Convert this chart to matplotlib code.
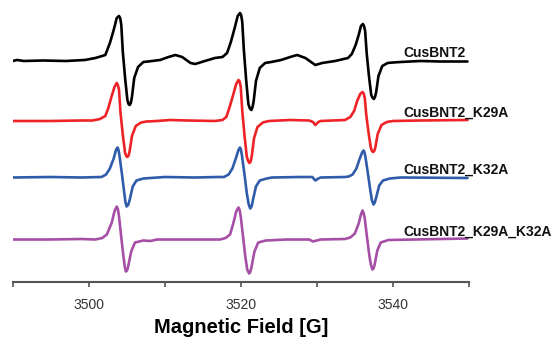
import matplotlib
matplotlib.use("Agg")
import matplotlib.pyplot as plt
from matplotlib.ticker import MultipleLocator

# EPR spectra (field in G, intensity in arb. units)
field_wt = [3490.0, 3490.6, 3491.5, 3494.0, 3497.0, 3499.5, 3500.9,
            3502.2, 3502.8, 3503.3, 3503.7, 3504.0, 3504.15, 3504.3, 3504.5, 3504.8, 3505.1,
            3505.25, 3505.4, 3505.55, 3505.7, 3506.0, 3506.5, 3507.2, 3507.8,
            3509.4, 3510.5, 3511.4, 3512.3, 3513.4, 3514.0, 3515.3, 3516.6,
            3517.6, 3518.2, 3518.7, 3519.2, 3519.6, 3519.9, 3520.05, 3520.2, 3520.4, 3520.7,
            3521.0, 3521.2, 3521.4, 3521.55, 3521.7, 3522.0, 3522.5, 3523.2, 3524.0,
            3525.3, 3526.5, 3527.4, 3528.5, 3529.8, 3530.7, 3532.4,
            3534.1, 3534.6, 3535.1, 3535.5, 3535.8, 3536.05, 3536.2, 3536.35, 3536.55, 3536.85,
            3537.15, 3537.35, 3537.5, 3537.65, 3537.8, 3538.1, 3538.6, 3539.3, 3540.0,
            3541.0, 3543.6, 3546.25, 3549.8]
int_wt = [0, 1, 0, 0.5, 0, 1, 3,
          6, 18, 31, 43, 45, 43, 36, 9, -17, -39,
          -43, -44, -42, -36, -17, -6, -1, -0.5,
          1, 4, 6, 4, -2, -3, 0, 3,
          4, 8, 19, 33, 45, 48, 46, 39, 12, -18,
          -43, -47.5, -49, -46, -40, -20, -7, -2, -1,
          1, 4, 6, 3, -4, -2, 0,
          3, 7, 16, 26, 35, 37, 35, 30, 8, -15,
          -34, -37, -38, -36, -31, -15, -5, -2, -1.5,
          -1, 0, -0.5, -0.5]

field_k29a = [3490.0, 3495.0, 3499.0, 3500.5,
              3501.5, 3502.2, 3502.6, 3503.0, 3503.4, 3503.7, 3503.85, 3504.0, 3504.2, 3504.5,
              3504.8, 3504.95, 3505.1, 3505.25, 3505.4, 3505.7, 3506.2, 3506.9, 3507.6,
              3509.0, 3510.7, 3513.0, 3516.6,
              3517.6, 3518.1, 3518.5, 3519.0, 3519.4, 3519.7, 3519.85, 3520.0, 3520.2, 3520.5,
              3520.8, 3521.0, 3521.15, 3521.3, 3521.45, 3521.75, 3522.2, 3522.9, 3523.7,
              3526.5, 3529.0, 3529.5, 3529.8, 3530.2, 3530.5,
              3533.7, 3534.4, 3534.9, 3535.3, 3535.7, 3536.0, 3536.15, 3536.3, 3536.5, 3536.8,
              3537.1, 3537.25, 3537.4, 3537.55, 3537.7, 3538.0, 3538.5, 3539.2, 3540.0,
              3543.6, 3549.8]
int_k29a = [0, 0, 0.5, 0.5,
            2, 5, 13, 24, 34, 38, 36, 31, 8, -14,
            -32, -35, -36, -34.5, -30, -15, -5, -1.5, -0.5,
            0, 1, 0.5, 0,
            1, 4, 13, 26, 37, 41, 39.5, 34, 10, -15,
            -36, -40.5, -42, -40.5, -35, -17, -6, -1.5, 0,
            1, 0.5, -1, -4, -1, 0,
            1, 4, 10, 20, 27, 29, 27.5, 23, 6, -12,
            -27, -30, -31, -30, -26, -13, -4, -1, 0,
            0.5, 1]

field_k32a = [3490.0, 3495.0, 3499.0,
              3501.7, 3502.3, 3502.8, 3503.3, 3503.6, 3503.8, 3503.92, 3504.05, 3504.4, 3504.7,
              3504.85, 3505.0, 3505.2, 3505.4, 3505.8, 3506.3, 3507.2,
              3510.0, 3514.0, 3517.0,
              3517.8, 3518.4, 3518.9, 3519.35, 3519.7, 3519.9, 3520.02, 3520.15, 3520.5, 3520.8,
              3521.05, 3521.25, 3521.45, 3521.6, 3522.0, 3522.5, 3523.4,
              3524.1, 3527.8, 3529.4, 3529.8, 3530.2, 3530.5, 3533.7,
              3534.2, 3534.7, 3535.2, 3535.6, 3535.95, 3536.15, 3536.27, 3536.4, 3536.75, 3537.05,
              3537.25, 3537.45, 3537.62, 3537.8, 3538.2, 3538.7, 3539.6,
              3541.0, 3549.8]
int_k32a = [0, 0.5, 0,
            0.5, 3, 9, 19, 27.5, 30, 28, 22.5, 2.5, -16,
            -25, -29, -27.5, -22.5, -9, -3, -1,
            0.5, 0, 0.5,
            0.5, 3, 9, 19, 27.5, 30, 28, 22.5, 2.5, -16,
            -27, -31, -28.5, -22.5, -9, -3, -1,
            0, 0.5, 0.5, -3, -1, 0, 0.5,
            1, 3, 9, 18, 25, 27, 25, 20, 2, -14,
            -23, -27, -25, -20, -8, -3, -1,
            0, -0.5]

field_k29a_k32a = [3490.0, 3495.0, 3499.0, 3500.9,
                   3501.8, 3502.4, 3503.05, 3503.4, 3503.7, 3503.85, 3504.0, 3504.3, 3504.6,
                   3504.75, 3504.9, 3505.05, 3505.2, 3505.6, 3506.1, 3507.2, 3508.1,
                   3509.0, 3510.7, 3514.0, 3517.3,
                   3518.0, 3518.6, 3519.05, 3519.4, 3519.7, 3519.85, 3520.0, 3520.3, 3520.6,
                   3520.85, 3521.1, 3521.25, 3521.4, 3521.8, 3522.3, 3523.3,
                   3526.0, 3529.0, 3529.5, 3530.0, 3530.5,
                   3533.7, 3534.4, 3535.0, 3535.5, 3535.8, 3536.0, 3536.15, 3536.3, 3536.6,
                   3536.9, 3537.1, 3537.3, 3537.45, 3537.6, 3537.95, 3538.4, 3539.4,
                   3549.8]
int_k29a_k32a = [0, 0, 0.5, 0,
                 1.5, 5, 17, 28, 33, 30.5, 23, 2, -18,
                 -27, -32, -31, -27, -12, -3, -1, -1.5,
                 0, 0, 0, 0,
                 1.5, 5, 17, 28, 32, 29.5, 23, 3, -17,
                 -30, -34, -32.5, -28, -12, -3, -1,
                 0, 0, -2, -1, 0,
                 0.5, 2, 6, 16, 25, 29, 26.5, 21, 2,
                 -16, -25, -30, -29, -25, -11, -3, -0.5,
                 1]

samples = ["CusBNT2", "CusBNT2_K29A", "CusBNT2_K32A", "CusBNT2_K29A_K32A"]
fields = [field_wt, field_k29a, field_k32a, field_k29a_k32a]
intensities = [int_wt, int_k29a, int_k32a, int_k29a_k32a]

colors = ["#000000", "#ee2327", "#2f5caa", "#a54fa6"]
offsets = [-61, -121, -177.5, -239.5]

plt.rcParams["font.family"] = ["Liberation Sans", "DejaVu Sans"]

fig = plt.figure(figsize=(5.57, 3.37), dpi=100)
ax = fig.add_axes([12.5 / 557, 1 - 282 / 337, (469 - 12.5) / 557, 282 / 337])

for name, f, y, c, off in zip(samples, fields, intensities, colors, offsets):
    ax.plot(f, [v + off for v in y], color=c, lw=1.9,
            solid_joinstyle="round", solid_capstyle="round")
    ax.text(3541.4, off + 8, name, fontsize=10, fontweight="bold",
            va="center", ha="left", color="#111111")

ax.set_xlim(3490, 3550)
ax.set_ylim(-282, 0)

for s in ["left", "right", "top"]:
    ax.spines[s].set_visible(False)
ax.spines["bottom"].set_color("#555555")
ax.spines["bottom"].set_linewidth(1.5)

ax.set_yticks([])
ax.xaxis.set_major_locator(MultipleLocator(20))
ax.xaxis.set_minor_locator(MultipleLocator(10))
ax.tick_params(axis="x", which="both", direction="out", length=3.5, width=1.2,
               color="#555555", labelsize=10, labelcolor="#333333", pad=8)
ax.set_xlabel("Magnetic Field [G]", fontsize=14.5, fontweight="bold", labelpad=4)

fig.savefig("out.png", dpi=100)
